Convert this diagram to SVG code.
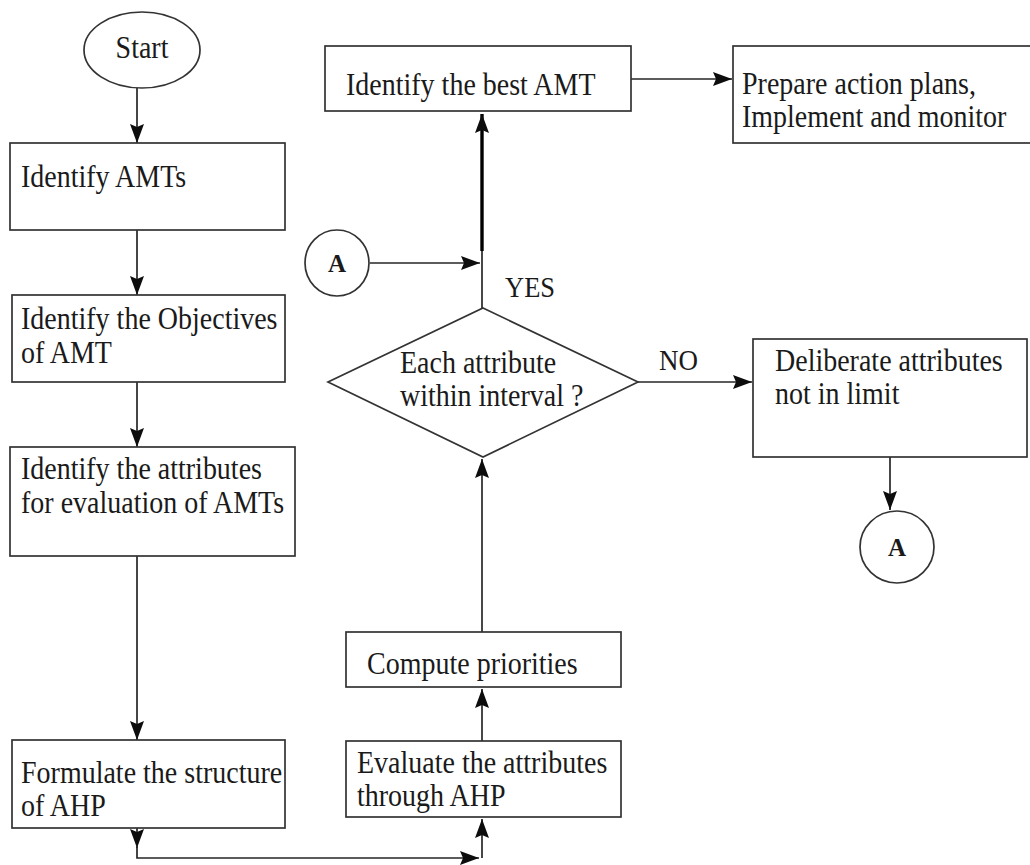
<svg xmlns="http://www.w3.org/2000/svg" width="1030" height="865" viewBox="0 0 1030 865">
  <style>
    .shape { fill: #ffffff; stroke: #333333; stroke-width: 1.7; }
    .lbl { font-family: "Liberation Serif", "Times New Roman", serif; font-size: 28px; fill: #1a1a1a; }
    .mid { text-anchor: middle; }
    .conn { fill: none; stroke: #262626; stroke-width: 1.7; }
    .bold-conn { fill: none; stroke: #000000; stroke-width: 3.4; }
    .circ { font-family: "Liberation Serif", "Times New Roman", serif; font-size: 25px; font-weight: bold; fill: #1a1a1a; text-anchor: middle; }
  </style>
  <defs>
    <marker id="arrow" markerUnits="userSpaceOnUse" markerWidth="20" markerHeight="16" refX="19" refY="8" orient="auto">
      <path d="M0,1 L19,8 L0,15 L3,8 z" fill="#0d0d0d"/>
    </marker>
  </defs>

  <rect width="1030" height="865" fill="#ffffff"/>

  <!-- connectors -->
  <g id="connectors">
    <path class="conn" d="M137,88 V143" marker-end="url(#arrow)"/>
    <path class="conn" d="M137,230 V295" marker-end="url(#arrow)"/>
    <path class="conn" d="M137,382 V447" marker-end="url(#arrow)"/>
    <path class="conn" d="M137,556 V740" marker-end="url(#arrow)"/>
    <path class="conn" d="M137,828 V848" marker-end="url(#arrow)"/>
    <path class="conn" d="M137,845 V858 H479" marker-end="url(#arrow)"/>
    <path class="conn" d="M482,858 V819" marker-end="url(#arrow)"/>
    <path class="conn" d="M482,741 V689" marker-end="url(#arrow)"/>
    <path class="conn" d="M482,632 V459" marker-end="url(#arrow)"/>
    <path class="conn" d="M482,308 V250"/>
    <path class="bold-conn" d="M482,251 V114" marker-end="url(#arrow)"/>
    <path class="conn" d="M370,263 H480" marker-end="url(#arrow)"/>
    <path class="conn" d="M631,79 H732" marker-end="url(#arrow)"/>
    <path class="conn" d="M638,382 H752" marker-end="url(#arrow)"/>
    <path class="conn" d="M890,457 V510" marker-end="url(#arrow)"/>
    <text class="lbl" transform="translate(505,297) scale(1,1.12)" style="font-size:26.5px">YES</text>
    <text class="lbl" transform="translate(659,370) scale(1,1.12)" style="font-size:27px">NO</text>
  </g>

  <!-- nodes -->
  <g id="start">
    <ellipse class="shape" cx="142" cy="50" rx="58" ry="38"/>
    <text class="lbl mid" transform="translate(142,58) scale(1,1.12)">Start</text>
  </g>

  <g id="identify-amts">
    <rect class="shape" x="10" y="143" width="275" height="87"/>
    <text class="lbl" transform="translate(21,187) scale(1,1.12)">Identify AMTs</text>
  </g>

  <g id="identify-objectives">
    <rect class="shape" x="12" y="295" width="273" height="87"/>
    <text class="lbl" transform="translate(21,329) scale(1,1.12)">Identify the Objectives</text>
    <text class="lbl" transform="translate(21,363) scale(1,1.12)">of AMT</text>
  </g>

  <g id="identify-attributes">
    <rect class="shape" x="10" y="447" width="285" height="109"/>
    <text class="lbl" transform="translate(21,479) scale(1,1.12)">Identify the attributes</text>
    <text class="lbl" transform="translate(21,513) scale(1,1.12)">for evaluation of AMTs</text>
  </g>

  <g id="formulate-ahp">
    <rect class="shape" x="12" y="740" width="273" height="88"/>
    <text class="lbl" transform="translate(21,783) scale(1,1.12)">Formulate the structure</text>
    <text class="lbl" transform="translate(21,816) scale(1,1.12)">of AHP</text>
  </g>

  <g id="evaluate-ahp">
    <rect class="shape" x="346" y="741" width="275" height="76"/>
    <text class="lbl" transform="translate(357,773) scale(1,1.12)">Evaluate the attributes</text>
    <text class="lbl" transform="translate(357,806) scale(1,1.12)">through AHP</text>
  </g>

  <g id="compute-priorities">
    <rect class="shape" x="346" y="632" width="275" height="55"/>
    <text class="lbl" transform="translate(367,674) scale(1,1.12)">Compute priorities</text>
  </g>

  <g id="decision">
    <polygon class="shape" points="483,308 638,382 483,457 328,382"/>
    <text class="lbl" transform="translate(400,373) scale(1,1.12)">Each attribute</text>
    <text class="lbl" transform="translate(400,406) scale(1,1.12)">within interval ?</text>
  </g>

  <g id="best-amt">
    <rect class="shape" x="325" y="46" width="306" height="65"/>
    <text class="lbl" transform="translate(346,95) scale(1,1.12)">Identify the best AMT</text>
  </g>

  <g id="action-plans">
    <rect class="shape" x="733" y="46" width="310" height="97"/>
    <text class="lbl" transform="translate(742,94) scale(1,1.12)">Prepare action plans,</text>
    <text class="lbl" transform="translate(742,127) scale(1,1.12)">Implement and monitor</text>
  </g>

  <g id="deliberate">
    <rect class="shape" x="753" y="339" width="274" height="118"/>
    <text class="lbl" transform="translate(775,371) scale(1,1.12)">Deliberate attributes</text>
    <text class="lbl" transform="translate(775,404) scale(1,1.12)">not in limit</text>
  </g>

  <g id="connector-a-in">
    <ellipse class="shape" cx="337" cy="263" rx="32" ry="33"/>
    <text class="circ" x="337" y="272">A</text>
  </g>

  <g id="connector-a-out">
    <ellipse class="shape" cx="897" cy="547" rx="37" ry="36"/>
    <text class="circ" x="897" y="556">A</text>
  </g>
</svg>
